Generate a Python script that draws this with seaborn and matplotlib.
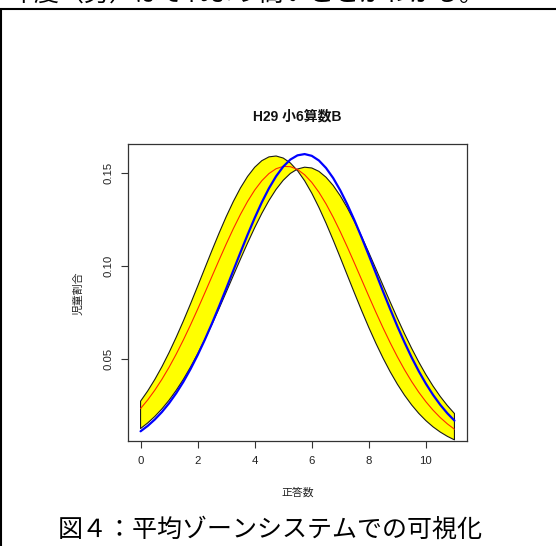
import matplotlib
matplotlib.use("Agg")
import numpy as np
import pandas as pd
import seaborn as sns
import matplotlib.pyplot as plt
from matplotlib.lines import Line2D

# Number of correct answers (score grid)
score = [0, 0.25, 0.5, 0.75, 1, 1.25, 1.5, 1.75, 2, 2.25, 2.5, 2.75,
         3, 3.25, 3.5, 3.75, 4, 4.25, 4.5, 4.75, 5, 5.25, 5.5, 5.75,
         6, 6.25, 6.5, 6.75, 7, 7.25, 7.5, 7.75, 8, 8.25, 8.5, 8.75,
         9, 9.25, 9.5, 9.75, 10, 10.25, 10.5, 10.75, 11]

# Zone boundary: distribution with the lowest average
zone_low = [0.02754, 0.03302, 0.03921, 0.04608, 0.05365, 0.06184, 0.07055, 0.07969,
            0.08915, 0.09874, 0.10829, 0.11758, 0.12641, 0.13456, 0.14183, 0.14801,
            0.15294, 0.15647, 0.15850, 0.15897, 0.15787, 0.15523, 0.15113, 0.14568,
            0.13905, 0.13140, 0.12295, 0.11391, 0.10449, 0.09489, 0.08535, 0.07599,
            0.06699, 0.05848, 0.05055, 0.04325, 0.03665, 0.03075, 0.02554, 0.02100,
            0.01711, 0.01379, 0.01102, 0.00871, 0.00681]
# Zone boundary: distribution with the highest average
zone_high = [0.01288, 0.01587, 0.01937, 0.02344, 0.02809, 0.03337, 0.03926, 0.04578,
             0.05289, 0.06054, 0.06867, 0.07717, 0.08594, 0.09483, 0.10367, 0.11230,
             0.12055, 0.12821, 0.13511, 0.14108, 0.14596, 0.14963, 0.15199, 0.15297,
             0.15255, 0.15074, 0.14758, 0.14318, 0.13762, 0.13108, 0.12370, 0.11567,
             0.10716, 0.09838, 0.08949, 0.08066, 0.07203, 0.06374, 0.05589, 0.04855,
             0.04178, 0.03565, 0.03013, 0.02523, 0.02093]
# Average of all years
zone_mean = [0.02359, 0.02821, 0.03345, 0.03930, 0.04574, 0.05279, 0.06036, 0.06840,
             0.07683, 0.08552, 0.09434, 0.10312, 0.11173, 0.11996, 0.12765, 0.13462,
             0.14070, 0.14572, 0.14957, 0.15215, 0.15339, 0.15325, 0.15174, 0.14890,
             0.14481, 0.13956, 0.13330, 0.12616, 0.11836, 0.11004, 0.10139, 0.09258,
             0.08376, 0.07512, 0.06677, 0.05881, 0.05133, 0.04441, 0.03807, 0.03234,
             0.02725, 0.02273, 0.01880, 0.01540, 0.01251]
# H29 distribution
h29 = [0.01140, 0.01428, 0.01773, 0.02176, 0.02645, 0.03183, 0.03792, 0.04473,
       0.05224, 0.06039, 0.06912, 0.07832, 0.08784, 0.09755, 0.10725, 0.11672,
       0.12576, 0.13416, 0.14166, 0.14810, 0.15328, 0.15706, 0.15932, 0.16000,
       0.15906, 0.15656, 0.15254, 0.14715, 0.14053, 0.13286, 0.12437, 0.11522,
       0.10570, 0.09600, 0.08630, 0.07682, 0.06768, 0.05906, 0.05099, 0.04360,
       0.03690, 0.03093, 0.02565, 0.02107, 0.01714]

x_ticks = [0, 2, 4, 6, 8, 10]
y_ticks = [0.05, 0.10, 0.15]
y_tick_labels = ["0.05", "0.10", "0.15"]

title = "H29 小6算数B"
x_label = "正答数"
y_label = "児童割合"
caption = "図４：平均ゾーンシステムでの可視化"
prev_line = "年度（男）はそれより高いことがわかる。"

sns.set_style("ticks")
plt.rcParams["font.family"] = ["Liberation Sans", "Noto Sans CJK JP"]

df = pd.DataFrame({"score": score, "low": zone_low, "high": zone_high,
                   "mean": zone_mean, "h29": h29})

W, H = 556, 546
fig = plt.figure(figsize=(W / 100, H / 100), dpi=100)
fig.patch.set_facecolor("white")

left, right, top, bottom = 128, 467, 144, 441
ax = fig.add_axes([left / W, 1 - bottom / H, (right - left) / W, (bottom - top) / H])

# Yellow zone polygon: low-average curve forward, high-average curve backward
poly_x = np.r_[df["score"].values, df["score"].values[::-1]]
poly_y = np.r_[df["low"].values, df["high"].values[::-1]]
ax.fill(poly_x, poly_y, facecolor="#FFFF00", edgecolor="#1a1a1a", linewidth=0.8,
        joinstyle="round", zorder=1)

sns.lineplot(data=df, x="score", y="mean", color="#FF2A00", linewidth=0.8, ax=ax,
             zorder=3, solid_joinstyle="round")
sns.lineplot(data=df, x="score", y="h29", color="#0000FF", linewidth=1.6, ax=ax,
             zorder=4, solid_joinstyle="round")

ax.set_xlim(-0.44, 11.44)
ax.set_ylim(0.0062, 0.1654)
ax.set_xticks(x_ticks)
ax.set_xticklabels([str(t) for t in x_ticks])
ax.set_yticks(y_ticks)
ax.set_yticklabels(y_tick_labels, rotation=90, va="center")
ax.set_xlabel("")
ax.set_ylabel("")

for s in ax.spines.values():
    s.set_visible(True)
    s.set_color("#333333")
    s.set_linewidth(0.9)

ax.tick_params(axis="both", direction="out", length=5, width=0.8, color="#333333",
               labelsize=8.2, labelcolor="#222222")
ax.tick_params(axis="x", pad=6)
ax.tick_params(axis="y", pad=5.5)

cjk = ["Noto Sans CJK JP", "DejaVu Sans"]
fig.text(297.7 / W, 1 - 116.7 / H, title, ha="center", va="center", fontsize=10,
         fontweight="bold", family=["Liberation Sans", "Noto Sans CJK JP"], color="#111111")
fig.text(297.5 / W, 1 - 492.7 / H, x_label, ha="center", va="center", fontsize=7.8,
         family=cjk, color="#222222")
fig.text(78.5 / W, 1 - 293 / H, y_label, ha="center", va="center", fontsize=7.8,
         rotation=90, family=cjk, color="#222222")

# Surrounding document elements
fig.text(270.4 / W, 1 - 530 / H, caption, ha="center", va="center", fontsize=18,
         family=cjk, color="black")
fig.text(10 / W, 1 - 0.5 / H, prev_line, ha="left", va="baseline", fontsize=18,
         family=cjk, color="black")
fig.add_artist(Line2D([0, 1], [1 - 9 / H, 1 - 9 / H], transform=fig.transFigure,
                      color="black", linewidth=1.5))
fig.add_artist(Line2D([1 / W, 1 / W], [0, 1 - 9 / H], transform=fig.transFigure,
                      color="black", linewidth=1.5))

fig.savefig("out.png", dpi=100, facecolor="white")
